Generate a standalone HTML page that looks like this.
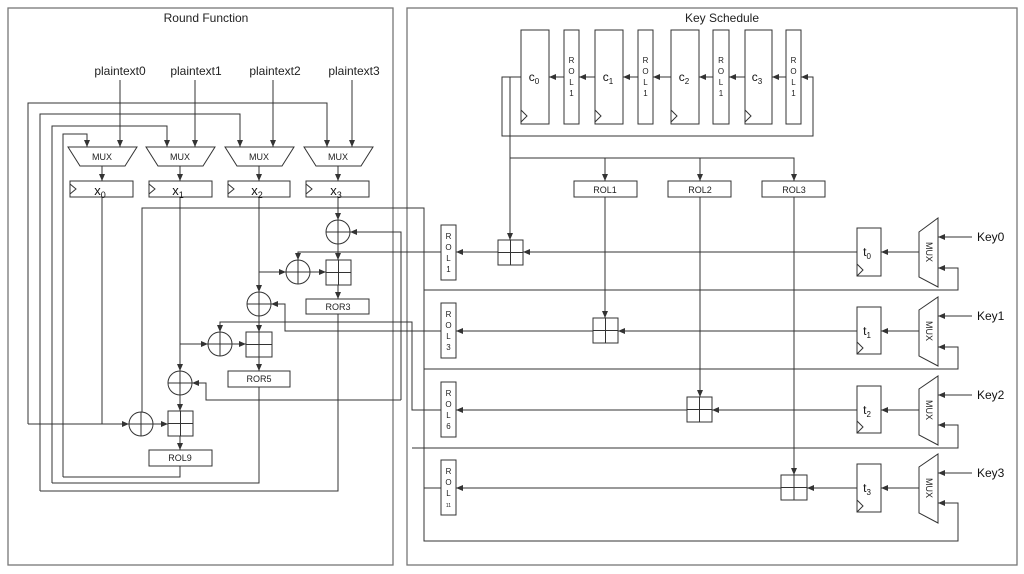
<!DOCTYPE html>
<html><head><meta charset="utf-8"><style>
body{margin:0;background:#fff;}
svg{display:block;font-family:"Liberation Sans",sans-serif;}
</style></head><body>
<svg width="1024" height="574" viewBox="0 0 1024 574" xmlns="http://www.w3.org/2000/svg">
<defs>
<marker id="a" markerWidth="8" markerHeight="8" refX="7" refY="4" orient="auto" markerUnits="userSpaceOnUse">
<path d="M0,1 L7,4 L0,7 z" fill="#333"/></marker>
</defs>
<rect width="1024" height="574" fill="#fff"/>
<g fill="none" stroke="#777" stroke-width="1.3">
<rect x="8" y="8" width="385" height="557"/>
<rect x="407" y="8" width="610" height="557"/>
</g>
<g font-size="12" fill="#222" text-anchor="middle">
<text x="206" y="22">Round Function</text>
<text x="722" y="22">Key Schedule</text>
<text x="120" y="75">plaintext0</text>
<text x="196" y="75">plaintext1</text>
<text x="275" y="75">plaintext2</text>
<text x="354" y="75">plaintext3</text>
</g>
<g fill="none" stroke="#333" stroke-width="1">
<!-- plaintext drops -->
<path d="M120 80V147" marker-end="url(#a)"/>
<path d="M195 80V147" marker-end="url(#a)"/>
<path d="M273 80V147" marker-end="url(#a)"/>
<path d="M352 80V147" marker-end="url(#a)"/>
<!-- feedback lines -->
<path d="M28 424V103H327V147" marker-end="url(#a)"/>
<path d="M40 491V114H240V147" marker-end="url(#a)"/>
<path d="M52 483V126H167V147" marker-end="url(#a)"/>
<path d="M63 477V134H87V147" marker-end="url(#a)"/>
<!-- muxes -->
<path d="M68 147H137L125 166H80Z"/>
<path d="M146 147H215L203 166H158Z"/>
<path d="M225 147H294L282 166H237Z"/>
<path d="M304 147H373L361 166H316Z"/>
<path d="M102 166V181" marker-end="url(#a)"/>
<path d="M180 166V181" marker-end="url(#a)"/>
<path d="M259 166V181" marker-end="url(#a)"/>
<path d="M338 166V181" marker-end="url(#a)"/>
<!-- registers -->
<rect x="70" y="181" width="63" height="16"/><path d="M70 184L76 189L70 194"/>
<rect x="149" y="181" width="63" height="16"/><path d="M149 184L155 189L149 194"/>
<rect x="228" y="181" width="62" height="16"/><path d="M228 184L234 189L228 194"/>
<rect x="306" y="181" width="63" height="16"/><path d="M306 184L312 189L306 194"/>
<!-- round datapath -->
<path d="M142 412V208H424V541H958V503H938" marker-end="url(#a)"/>
<path d="M338 197V220" marker-end="url(#a)"/>
<circle cx="338" cy="232" r="12"/><path d="M326 232H350M338 220V244"/>
<path d="M401 400V232H350" marker-end="url(#a)"/>
<path d="M338 244V260" marker-end="url(#a)"/>
<path d="M441 252H298V260" marker-end="url(#a)"/>
<circle cx="298" cy="272" r="12"/><path d="M286 272H310M298 260V284"/>
<path d="M259 197V292" marker-end="url(#a)"/>
<path d="M259 272H286" marker-end="url(#a)"/>
<path d="M310 272H326" marker-end="url(#a)"/>
<rect x="326" y="260" width="25" height="25"/><path d="M326 272.5H351M338.5 260V285"/>
<path d="M338 285V299" marker-end="url(#a)"/>
<rect x="306" y="299" width="63" height="15"/>
<circle cx="259" cy="304" r="12"/><path d="M247 304H271M259 292V316"/>
<path d="M441 331H285V304H271" marker-end="url(#a)"/>
<path d="M259 316V332" marker-end="url(#a)"/>
<path d="M441 410H412V322H220V332" marker-end="url(#a)"/>
<circle cx="220" cy="344" r="12"/><path d="M208 344H232M220 332V356"/>
<path d="M180 197V371" marker-end="url(#a)"/>
<path d="M180 344H208" marker-end="url(#a)"/>
<path d="M232 344H246" marker-end="url(#a)"/>
<rect x="246" y="332" width="26" height="25"/><path d="M246 344.5H272M259 332V357"/>
<path d="M259 357V371" marker-end="url(#a)"/>
<rect x="228" y="371" width="62" height="16"/>
<circle cx="180" cy="383" r="12"/><path d="M168 383H192M180 371V395"/>
<path d="M401 400H206V383H192" marker-end="url(#a)"/>
<path d="M180 395V411" marker-end="url(#a)"/>
<path d="M102 197V424"/>
<path d="M28 424H129" marker-end="url(#a)"/>
<circle cx="141" cy="424" r="12"/><path d="M129 424H153M141 412V436"/>
<path d="M153 424H168" marker-end="url(#a)"/>
<rect x="168" y="411" width="25" height="25"/><path d="M168 423.5H193M180.5 411V436"/>
<path d="M180 436V450" marker-end="url(#a)"/>
<rect x="149" y="450" width="63" height="16"/>
<path d="M180 466V477H63"/>
<path d="M259 387V483H52"/>
<path d="M338 314V491H40"/>
<!-- key schedule top -->
<rect x="521" y="30" width="28" height="94"/><path d="M521 110L527 116L521 122"/>
<rect x="564" y="30" width="15" height="94"/>
<rect x="595" y="30" width="28" height="94"/><path d="M595 110L601 116L595 122"/>
<rect x="638" y="30" width="15" height="94"/>
<rect x="671" y="30" width="28" height="94"/><path d="M671 110L677 116L671 122"/>
<rect x="713" y="30" width="16" height="94"/>
<rect x="745" y="30" width="27" height="94"/><path d="M745 110L751 116L745 122"/>
<rect x="786" y="30" width="15" height="94"/>
<path d="M564 77H549" marker-end="url(#a)"/>
<path d="M595 77H579" marker-end="url(#a)"/>
<path d="M638 77H623" marker-end="url(#a)"/>
<path d="M671 77H653" marker-end="url(#a)"/>
<path d="M713 77H699" marker-end="url(#a)"/>
<path d="M745 77H729" marker-end="url(#a)"/>
<path d="M786 77H772" marker-end="url(#a)"/>
<path d="M521 77H502V136H813V77H801" marker-end="url(#a)"/>
<path d="M510 77V240" marker-end="url(#a)"/>
<path d="M510 158H794V181" marker-end="url(#a)"/>
<path d="M605 158V181" marker-end="url(#a)"/>
<path d="M700 158V181" marker-end="url(#a)"/>
<rect x="574" y="181" width="63" height="16"/>
<rect x="668" y="181" width="63" height="16"/>
<rect x="762" y="181" width="63" height="16"/>
<path d="M605 197V318" marker-end="url(#a)"/>
<path d="M700 197V397" marker-end="url(#a)"/>
<path d="M794 197V475" marker-end="url(#a)"/>
<!-- ROL boxes -->
<rect x="441" y="225" width="15" height="55"/>
<rect x="441" y="303" width="15" height="55"/>
<rect x="441" y="382" width="15" height="55"/>
<rect x="441" y="460" width="15" height="55"/>
<!-- adders -->
<rect x="498" y="240" width="25" height="25"/><path d="M498 252.5H523M510.5 240V265"/>
<rect x="593" y="318" width="25" height="25"/><path d="M593 330.5H618M605.5 318V343"/>
<rect x="687" y="397" width="25" height="25"/><path d="M687 409.5H712M699.5 397V422"/>
<rect x="781" y="475" width="26" height="25"/><path d="M781 487.5H807M794 475V500"/>
<path d="M498 252H456" marker-end="url(#a)"/>
<path d="M857 252H523" marker-end="url(#a)"/>
<path d="M593 331H456" marker-end="url(#a)"/>
<path d="M857 331H618" marker-end="url(#a)"/>
<path d="M687 410H456" marker-end="url(#a)"/>
<path d="M857 410H712" marker-end="url(#a)"/>
<path d="M781 488H456" marker-end="url(#a)"/>
<path d="M857 488H807" marker-end="url(#a)"/>
<path d="M424 488H441"/>
<!-- t registers and muxes -->
<rect x="857" y="228" width="24" height="48"/><path d="M857 264L863 270L857 276"/>
<rect x="857" y="307" width="24" height="47"/><path d="M857 342L863 348L857 354"/>
<rect x="857" y="386" width="24" height="47"/><path d="M857 421L863 427L857 433"/>
<rect x="857" y="464" width="24" height="48"/><path d="M857 500L863 506L857 512"/>
<path d="M919 232L938 218V287L919 277Z"/>
<path d="M919 310L938 297V366L919 356Z"/>
<path d="M919 389L938 376V445L919 435Z"/>
<path d="M919 467L938 454V523L919 513Z"/>
<path d="M919 252H881" marker-end="url(#a)"/>
<path d="M919 331H881" marker-end="url(#a)"/>
<path d="M919 410H881" marker-end="url(#a)"/>
<path d="M919 488H881" marker-end="url(#a)"/>
<path d="M972 237H938" marker-end="url(#a)"/>
<path d="M972 316H938" marker-end="url(#a)"/>
<path d="M972 395H938" marker-end="url(#a)"/>
<path d="M972 473H938" marker-end="url(#a)"/>
<path d="M424 290H958V268H938" marker-end="url(#a)"/>
<path d="M424 369H958V347H938" marker-end="url(#a)"/>
<path d="M412 448H958V425H938" marker-end="url(#a)"/>
</g>
<g font-size="9" fill="#222" text-anchor="middle">
<text x="102" y="160">MUX</text><text x="180" y="160">MUX</text>
<text x="259" y="160">MUX</text><text x="338" y="160">MUX</text>
<text x="338" y="310">ROR3</text><text x="259" y="382">ROR5</text><text x="180" y="461">ROL9</text>
<text x="605" y="193">ROL1</text><text x="700" y="193">ROL2</text><text x="794" y="193">ROL3</text>
</g>
<g font-size="13" fill="#111" text-anchor="middle">
<text x="100" y="195">x<tspan font-size="9" dy="3">0</tspan></text>
<text x="178" y="195">x<tspan font-size="9" dy="3">1</tspan></text>
<text x="257" y="195">x<tspan font-size="9" dy="3">2</tspan></text>
<text x="336" y="195">x<tspan font-size="9" dy="3">3</tspan></text>
<text x="534" y="81" font-size="12">c<tspan font-size="8" dy="3">0</tspan></text>
<text x="608" y="81" font-size="12">c<tspan font-size="8" dy="3">1</tspan></text>
<text x="684" y="81" font-size="12">c<tspan font-size="8" dy="3">2</tspan></text>
<text x="757" y="81" font-size="12">c<tspan font-size="8" dy="3">3</tspan></text>
<text x="867" y="256" font-size="12">t<tspan font-size="8" dy="3">0</tspan></text>
<text x="867" y="335" font-size="12">t<tspan font-size="8" dy="3">1</tspan></text>
<text x="867" y="414" font-size="12">t<tspan font-size="8" dy="3">2</tspan></text>
<text x="867" y="492" font-size="12">t<tspan font-size="8" dy="3">3</tspan></text>
</g>
<g font-size="12" fill="#111">
<text x="977" y="241">Key0</text><text x="977" y="320">Key1</text>
<text x="977" y="399">Key2</text><text x="977" y="477">Key3</text>
</g>
<g font-size="8" fill="#222" text-anchor="middle">
<text x="571.5" y="63">R</text><text x="571.5" y="74">O</text><text x="571.5" y="85">L</text><text x="571.5" y="96">1</text>
<text x="645.5" y="63">R</text><text x="645.5" y="74">O</text><text x="645.5" y="85">L</text><text x="645.5" y="96">1</text>
<text x="721" y="63">R</text><text x="721" y="74">O</text><text x="721" y="85">L</text><text x="721" y="96">1</text>
<text x="793.5" y="63">R</text><text x="793.5" y="74">O</text><text x="793.5" y="85">L</text><text x="793.5" y="96">1</text>
<text x="448.5" y="239">R</text><text x="448.5" y="250">O</text><text x="448.5" y="261">L</text><text x="448.5" y="272">1</text>
<text x="448.5" y="317">R</text><text x="448.5" y="328">O</text><text x="448.5" y="339">L</text><text x="448.5" y="350">3</text>
<text x="448.5" y="396">R</text><text x="448.5" y="407">O</text><text x="448.5" y="418">L</text><text x="448.5" y="429">6</text>
<text x="448.5" y="474">R</text><text x="448.5" y="485">O</text><text x="448.5" y="496">L</text><text x="448.5" y="507" font-size="5">11</text>
</g>
<g font-size="9" fill="#222" text-anchor="middle">
<text transform="translate(926 252) rotate(90)">MUX</text>
<text transform="translate(926 331) rotate(90)">MUX</text>
<text transform="translate(926 410) rotate(90)">MUX</text>
<text transform="translate(926 488) rotate(90)">MUX</text>
</g>
</svg>
</body></html>
